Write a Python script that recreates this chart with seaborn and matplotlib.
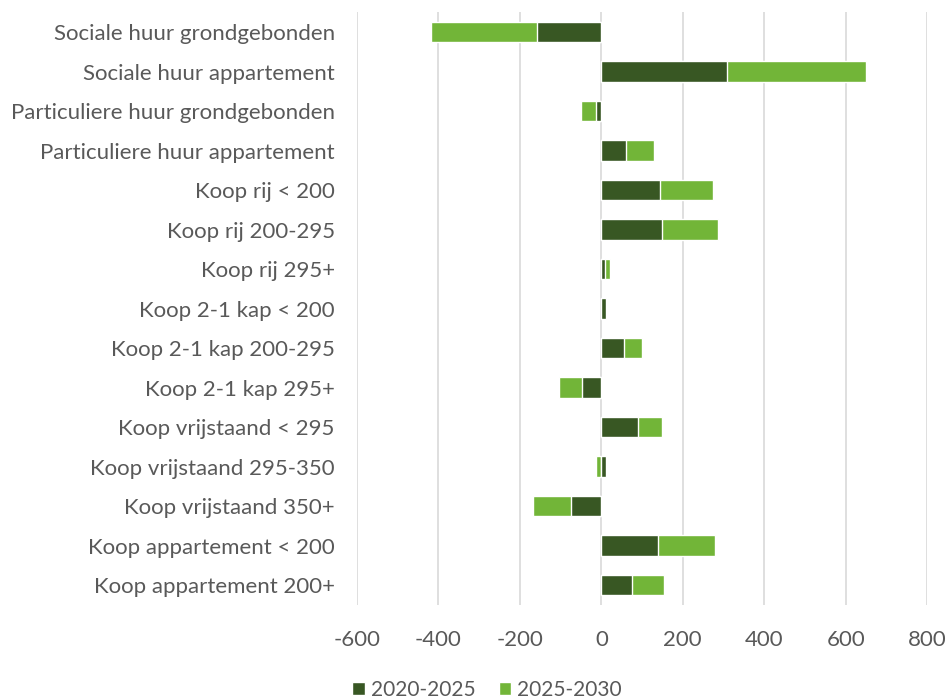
import numpy as np
import pandas as pd
import seaborn as sns
import matplotlib.pyplot as plt

categories = [
    "Sociale huur grondgebonden",
    "Sociale huur appartement",
    "Particuliere huur grondgebonden",
    "Particuliere huur appartement",
    "Koop rij < 200",
    "Koop rij 200-295",
    "Koop rij 295+",
    "Koop 2-1 kap < 200",
    "Koop 2-1 kap 200-295",
    "Koop 2-1 kap 295+",
    "Koop vrijstaand < 295",
    "Koop vrijstaand 295-350",
    "Koop vrijstaand 350+",
    "Koop appartement < 200",
    "Koop appartement 200+",
]
p2020_2025 = [-158, 309, -12, 60, 145, 150, 10, 11, 56, -47, 91, 11, -74, 140, 75]
p2025_2030 = [-261, 341, -37, 70, 130, 137, 11, 0, 45, -56, 59, -14, -95, 140, 80]
series_names = ["2020-2025", "2025-2030"]
ticks = [-600, -400, -200, 0, 200, 400, 600, 800]

dark = "#385723"
light = "#72B538"
text_col = "#595959"

sns.set_style("white")
plt.rcParams["font.family"] = ["Lato", "DejaVu Sans"]

a = np.array(p2020_2025)
b = np.array(p2025_2030)
# stacked like Excel: positive on positive, negative on negative
outer = np.where(np.sign(a) == np.sign(b), a + b, b)
df = pd.DataFrame({"cat": categories, "first": a, "outer": outer})

fig = plt.figure(figsize=(9.46, 7), dpi=100)
ax = fig.add_axes([0.3774, 0.136, 0.6026, 0.8465])

sns.barplot(data=df, x="outer", y="cat", color=light, width=0.52, ax=ax,
            orient="h", saturation=1, label=series_names[1])
sns.barplot(data=df, x="first", y="cat", color=dark, width=0.52, ax=ax,
            orient="h", saturation=1, label=series_names[0])

ax.set_xlim(-600, 800)
ax.set_xticks(ticks)
ax.set_xticklabels([str(t) for t in ticks])
ax.set_ylim(len(categories) - 0.5, -0.5)
ax.set_xlabel("")
ax.set_ylabel("")
ax.grid(axis="x", color="#d9d9d9", lw=1.2)
ax.set_axisbelow(True)
sns.despine(ax=ax, left=True, bottom=True)
ax.tick_params(axis="both", length=0, labelsize=16, labelcolor=text_col)
ax.tick_params(axis="x", pad=18)
ax.tick_params(axis="y", pad=16)

h, l = ax.get_legend_handles_labels()
order = [l.index(series_names[0]), l.index(series_names[1])]
fig.legend([h[i] for i in order], [l[i] for i in order], loc="center",
           bbox_to_anchor=(0.515, 0.015), ncol=2, frameon=False,
           fontsize=15, labelcolor=text_col, handlelength=0.6,
           handleheight=0.6, handletextpad=0.3, columnspacing=1.1)
if ax.get_legend() is not None:
    ax.get_legend().remove()

fig.savefig("out.png", dpi=100)
